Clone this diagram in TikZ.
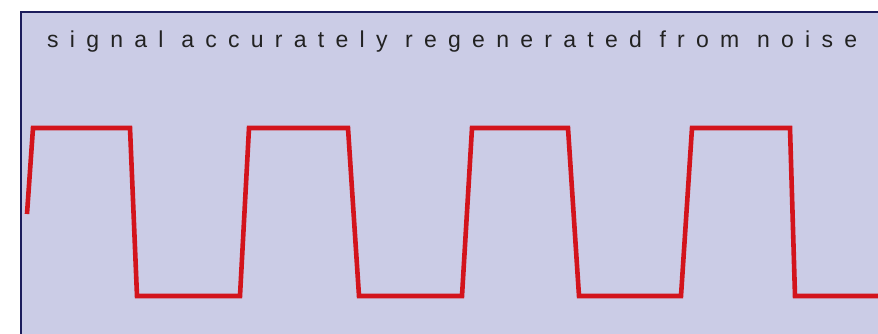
\documentclass[tikz,border=0pt]{standalone}
\usepackage{fontspec}
\usepackage{tikz}
\usetikzlibrary{positioning}
\newfontfamily\capfont{Liberation Sans}[LetterSpace=49]
\definecolor{lavpanel}{HTML}{CBCCE6}
\definecolor{navyedge}{HTML}{1C1C5C}
\definecolor{sigred}{HTML}{D3141C}
\definecolor{captext}{HTML}{222222}
\tikzset{
  panel/.style={fill=lavpanel, draw=navyedge, line width=1.4pt},
  wave/.style={draw=sigred, line width=4.6pt, line join=miter},
  caption/.style={font=\capfont\fontsize{23}{23}\selectfont, text=captext,
    inner sep=0pt, anchor=base west}
}

\begin{document}
\begin{tikzpicture}[x=1pt,y=-1pt]
  \useasboundingbox (0,0) rectangle (878,333);
  \begin{scope}
    \clip (0,0) rectangle (878,333);
    % backdrop
    \fill[white] (0,0) rectangle (878,333);
    \draw[panel] (21,12) rectangle (890,345);
    \draw[navyedge, line width=2.6pt] (21,12) -- (21,345);
    % regenerated pulse train
    \draw[wave] (27,214) -- (33,128) -- (130,128) -- (137,296) -- (240,296)
      -- (249,128) -- (348,128) -- (359,296) -- (462,296) -- (472,128)
      -- (568,128) -- (579,296) -- (681,296) -- (692,128) -- (790,128)
      -- (795,296) -- (890,296);
  \end{scope}
  \node[caption] (title) at (47,47) {signal accurately regenerated from noise};
\end{tikzpicture}
\end{document}
